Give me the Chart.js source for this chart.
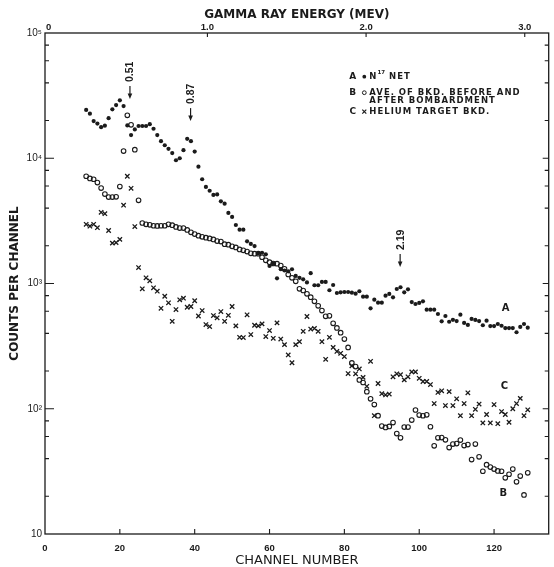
<!DOCTYPE html>
<html>
<head>
<meta charset="utf-8">
<script src="https://cdn.jsdelivr.net/npm/chart.js@4/dist/chart.umd.min.js"></script>
<style>
  html, body { margin:0; padding:0; background:#ffffff; }
  #box { width:554px; height:567px; }
  canvas { display:block; }
</style>
</head>
<body>
<div id="box"><canvas id="chart" width="554" height="567"></canvas></div>
<script>
// ---------------- data ----------------
const channels = [11,12,13,14,15,16,17,18,19,20,21,22,23,24,25,26,27,28,29,30,31,32,33,34,35,36,37,38,39,40,
  41,42,43,44,45,46,47,48,49,50,51,52,53,54,55,56,57,58,59,60,61,62,63,64,65,66,67,68,69,70,
  71,72,73,74,75,76,77,78,79,80,81,82,83,84,85,86,87,88,89,90,91,92,93,94,95,96,97,98,99,100,
  101,102,103,104,105,106,107,108,109,110,111,112,113,114,115,116,117,118,119,120,121,122,123,124,125,126,127,128,129];

// A: N17 net (filled dots)
const countsA = [24300,22700,19800,18900,17700,18200,20900,24600,26600,29000,
  26100,18300,15300,17000,18100,18100,18100,18700,17200,15300,
  13700,12700,11900,11000,9640,10000,11600,14300,13700,11300,
  8570,6800,5900,5500,5100,5140,4530,4340,3660,3400,
  2930,2690,2690,2170,2070,1990,1740,1760,1710,1380,
  1440,1100,1300,1270,1250,1300,1150,1110,1080,1020,
  1210,968,968,1030,1030,883,973,840,850,855,
  855,845,830,867,785,785,634,743,703,703,
  800,825,776,904,933,851,899,711,686,700,
  720,618,618,618,571,499,550,495,513,501,
  564,484,467,521,512,501,464,505,457,457,
  475,460,441,441,441,408,450,475,444];

// B: average of background before and after bombardment (open circles)
const countsB = [7180,6900,6800,6400,5780,5180,4900,4900,4920,5940,
  11400,22000,18500,11700,4610,3040,2970,2940,2890,2880,
  2890,2890,2970,2920,2830,2770,2770,2680,2560,2480,
  2410,2360,2320,2290,2250,2180,2160,2060,2040,1980,
  1940,1870,1840,1800,1740,1730,1730,1620,1530,1480,
  1445,1440,1390,1310,1180,1110,1040,907,879,827,
  777,721,663,608,547,552,481,442,405,360,
  309,232,217,170,162,137,120,108,88,72.7,
  70.9,72.2,77.6,63.4,58.6,71.4,71.4,81.2,97.7,89.1,
  87.9,89.5,71.8,50.6,58.6,58.9,56.5,49,52.2,52.7,
  56.2,50.8,51.8,39.3,52.2,41.3,31.7,35.8,34.2,33,
  31.9,31.7,28.1,30,33,26.1,29,20.5,30.8];

// C: helium target background (x marks)
const countsC = [2970,2870,2970,2790,3700,3610,2650,2100,2120,2250,
  4220,7180,5750,2850,1340,907,1110,1050,924,868,
  634,791,701,499,619,741,763,646,655,728,
  550,608,470,453,555,532,597,499,557,655,
  459,372,370,562,391,464,459,476,377,421,
  365,485,360,325,269,233,325,343,415,545,
  433,438,415,343,248,372,309,287,277,261,
  191,220,190,208,178,151,239,88,159,132,
  129,131,180,190,187,170,180,197,197,175,
  165,165,156,110,135,139,106,137,106,120,
  88,110,134,88,99,109,77,90,77,108,
  76,95,90,78,100,110,121,88,98];

// tick labels
const xTickValues = [0,20,40,60,80,100,120];
const yTickValues = [10,100,1000,10000,100000];
const yTickLabels = ['10','10\u00B2','10\u00B3','10\u2074','10\u2075'];
const energyTickValues = [0,1,2,3];
const energyTickLabels = ['0','1.0','2.0','3.0'];

// energy calibration of the top axis (channel = offset + perMeV * E)
const channelAtZeroMeV = 1.0;
const channelsPerMeV = 42.4;
const channelMax = 134.6;

// peak annotations
const peakLabels = ['0.51','0.87','2.19'];
const peakChannels = [22.7, 38.9, 94.9];
const peakTipCounts = [29700, 19800, 1355];

// series tags near curve ends
const tagLetters = ['A','B','C'];
const tagChannels = [123.1, 122.5, 122.8];
const tagCounts = [637, 20.9, 150];

// ---------------- drawing ----------------
const INK = '#1b1b1b';
const SANS = '"Liberation Sans", Arial, sans-serif';
const DJ = '"DejaVu Sans", "Liberation Sans", sans-serif';

const frameAndTicks = {
  id: 'frameAndTicks',
  afterDatasetsDraw(chart) {
    const {ctx} = chart;
    const {left, right, top, bottom} = chart.chartArea;
    const ys = chart.scales.y, xs = chart.scales.x, es = chart.scales.x2;
    ctx.save();
    ctx.strokeStyle = INK;
    ctx.lineWidth = 1.3;
    ctx.strokeRect(left, top, right - left, bottom - top);
    ctx.lineWidth = 1.1;
    ctx.beginPath();
    for (let d = 10; d <= 100000; d *= 10) {
      for (const m of [1, 2, 4, 6, 8]) {
        const v = d * m;
        if (v > 100000) continue;
        if (m === 1 && (d === 10 || d === 100000)) continue;
        const y = ys.getPixelForValue(v);
        ctx.moveTo(left, y); ctx.lineTo(left + (m === 1 ? 9 : 4), y);
        ctx.moveTo(right, y); ctx.lineTo(right - (m === 1 ? 6 : 4), y);
      }
    }
    xs.ticks.forEach(t => {
      if (t.value <= 0) return;
      const x = xs.getPixelForValue(t.value);
      ctx.moveTo(x, bottom); ctx.lineTo(x, bottom - 5);
    });
    es.ticks.forEach(t => {
      if (t.value <= 0) return;
      const x = es.getPixelForValue(t.value);
      ctx.moveTo(x, top); ctx.lineTo(x, top + 4);
    });
    ctx.stroke();
    ctx.restore();
  }
};

const annotations = {
  id: 'annotations',
  afterDraw(chart) {
    const {ctx} = chart;
    const ys = chart.scales.y, xs = chart.scales.x;
    ctx.save();
    ctx.fillStyle = INK;
    ctx.strokeStyle = INK;
    // peak arrows
    ctx.lineWidth = 1.2;
    ctx.font = 'bold 10.5px ' + SANS;
    peakLabels.forEach((lab, i) => {
      const x = xs.getPixelForValue(peakChannels[i]);
      const yTip = ys.getPixelForValue(peakTipCounts[i]);
      const yTail = yTip - 13;
      ctx.beginPath(); ctx.moveTo(x, yTail); ctx.lineTo(x, yTip - 3); ctx.stroke();
      ctx.beginPath(); ctx.moveTo(x, yTip); ctx.lineTo(x - 2.3, yTip - 5.5); ctx.lineTo(x + 2.3, yTip - 5.5); ctx.closePath(); ctx.fill();
      ctx.save();
      ctx.translate(x, yTail - 4);
      ctx.rotate(-Math.PI / 2);
      ctx.textAlign = 'left'; ctx.textBaseline = 'middle';
      ctx.fillText(lab, 0, 0.5);
      ctx.restore();
    });
    // series tags
    ctx.font = 'bold 10px ' + DJ;
    ctx.textAlign = 'center'; ctx.textBaseline = 'middle';
    tagLetters.forEach((t, i) => {
      ctx.fillText(t, xs.getPixelForValue(tagChannels[i]), ys.getPixelForValue(tagCounts[i]));
    });
    // legend block
    const tagX = 352.7, markX = 364.3, textX = 369.3;
    const rowY = [76.7, 92.7, 111.7];
    ctx.font = 'bold 9px ' + DJ;
    ['A','B','C'].forEach((t, i) => ctx.fillText(t, tagX, rowY[i]));
    ctx.beginPath(); ctx.arc(markX, rowY[0], 1.9, 0, Math.PI * 2); ctx.fill();
    ctx.lineWidth = 1.0;
    ctx.beginPath(); ctx.arc(markX, rowY[1], 1.9, 0, Math.PI * 2); ctx.stroke();
    ctx.lineWidth = 1.2;
    ctx.beginPath();
    ctx.moveTo(markX - 2, rowY[2] - 2); ctx.lineTo(markX + 2, rowY[2] + 2);
    ctx.moveTo(markX + 2, rowY[2] - 2); ctx.lineTo(markX - 2, rowY[2] + 2);
    ctx.stroke();
    ctx.textAlign = 'left';
    const bf = 'bold 8.5px ' + DJ;
    ctx.font = bf;
    try { ctx.letterSpacing = '1px'; } catch (e) {}
    ctx.fillText('N', textX, rowY[0]);
    const w = ctx.measureText('N').width;
    ctx.font = 'bold 5.5px ' + DJ;
    try { ctx.letterSpacing = '0px'; } catch (e) {}
    ctx.fillText('17', textX + w, rowY[0] - 4);
    const w17 = ctx.measureText('17').width;
    ctx.font = bf;
    try { ctx.letterSpacing = '1px'; } catch (e) {}
    ctx.fillText('NET', textX + w + w17 + 4, rowY[0]);
    ctx.fillText('AVE. OF BKD. BEFORE AND', textX, rowY[1]);
    ctx.fillText('AFTER BOMBARDMENT', textX, rowY[1] + 7.6);
    ctx.fillText('HELIUM TARGET BKD.', textX, rowY[2]);
    ctx.restore();
  }
};

const toPoints = ys => channels.map((c, i) => ({x: c, y: ys[i]}));
const noGrid = { display: false, drawTicks: false, tickLength: 0 };

new Chart(document.getElementById('chart'), {
  type: 'scatter',
  data: {
    datasets: [
      { label: 'A', data: toPoints(countsA), pointStyle: 'circle', pointRadius: 2.1,
        backgroundColor: INK, borderColor: INK, pointBorderWidth: 0 },
      { label: 'B', data: toPoints(countsB), pointStyle: 'circle', pointRadius: 2.3,
        backgroundColor: 'rgba(0,0,0,0)', borderColor: INK, pointBorderWidth: 1.1 },
      { label: 'C', data: toPoints(countsC), pointStyle: 'crossRot', pointRadius: 3.1,
        backgroundColor: INK, borderColor: INK, pointBorderWidth: 1.3 }
    ]
  },
  options: {
    responsive: false,
    animation: false,
    devicePixelRatio: 1,
    events: [],
    layout: { padding: { left: 0, right: 3, top: 0, bottom: 0 } },
    plugins: { legend: { display: false }, tooltip: { enabled: false } },
    scales: {
      x: {
        type: 'linear', position: 'bottom', min: 0, max: channelMax,
        afterBuildTicks: s => { s.ticks = xTickValues.map(v => ({value: v})); },
        afterFit: s => { s.height = 33; },
        grid: noGrid, border: { display: false },
        ticks: { autoSkip: false, maxRotation: 0, padding: 9, color: INK,
          font: { family: SANS, size: 9.5, weight: 'bold' }, callback: v => String(v) },
        title: { display: true, text: 'CHANNEL NUMBER', color: INK,
          font: { family: DJ, size: 13, lineHeight: 1 }, padding: { top: 0, bottom: 0 } }
      },
      x2: {
        type: 'linear', position: 'top',
        min: (0 - channelAtZeroMeV) / channelsPerMeV,
        max: (channelMax - channelAtZeroMeV) / channelsPerMeV,
        afterBuildTicks: s => { s.ticks = energyTickValues.map(v => ({value: v})); },
        afterFit: s => { s.height = 33; },
        grid: noGrid, border: { display: false },
        ticks: { autoSkip: false, maxRotation: 0, padding: 0, color: INK,
          font: { family: SANS, size: 9.5, weight: 'bold' },
          callback: v => energyTickLabels[energyTickValues.indexOf(v)] },
        title: { display: true, text: 'GAMMA RAY ENERGY (MEV)', color: INK,
          font: { family: DJ, size: 12, weight: 'bold', lineHeight: 1 }, padding: { top: 8.5, bottom: 0 } }
      },
      y: {
        type: 'logarithmic', position: 'left', min: 10, max: 100000,
        afterBuildTicks: s => { s.ticks = yTickValues.map(v => ({value: v})); },
        afterFit: s => { s.width = 45; },
        grid: noGrid, border: { display: false },
        ticks: { autoSkip: false, padding: 3, color: INK,
          font: { family: SANS, size: 10 },
          callback: v => { const i = yTickValues.indexOf(v); return i >= 0 ? yTickLabels[i] : ''; } },
        title: { display: true, text: 'COUNTS PER CHANNEL', color: INK,
          font: { family: DJ, size: 12, weight: 'bold', lineHeight: 1 }, padding: { top: 8.5, bottom: 0 } }
      }
    }
  },
  plugins: [frameAndTicks, annotations]
});
</script>
</body>
</html>
